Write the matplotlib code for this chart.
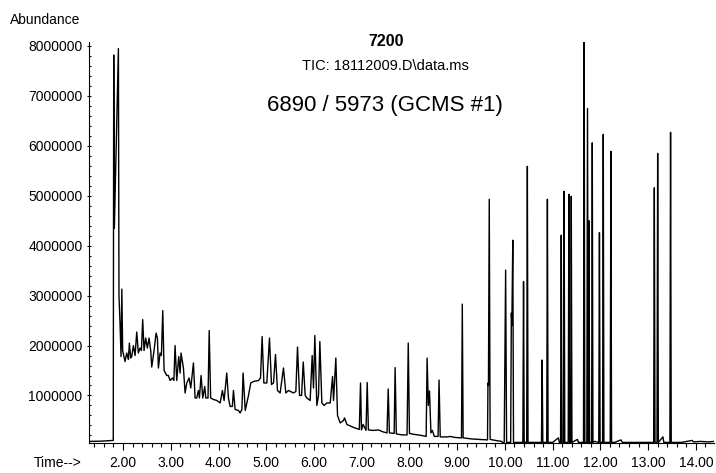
import matplotlib
matplotlib.use("Agg")
import matplotlib.pyplot as plt
from matplotlib.ticker import MultipleLocator, FuncFormatter

plt.rcParams['font.family'] = ['Liberation Sans', 'DejaVu Sans']

# trace, minutes / abundance in millions
trace_time = [
    1.29, 1.55, 1.795, 1.805, 1.818, 1.903, 1.915, 1.937, 1.958, 1.975,
    1.992, 2.042, 2.077, 2.112, 2.133, 2.160, 2.182, 2.217, 2.252, 2.287,
    2.321, 2.356, 2.385, 2.412, 2.440, 2.475, 2.510, 2.545, 2.580, 2.601,
    2.650, 2.692, 2.720, 2.741, 2.776, 2.804, 2.832, 2.860, 2.915, 2.950,
    2.985, 3.034, 3.065, 3.090, 3.125, 3.167, 3.195, 3.215, 3.265, 3.300,
    3.335, 3.384, 3.419, 3.475, 3.509, 3.544, 3.579, 3.600, 3.635, 3.670,
    3.712, 3.733, 3.780, 3.805, 3.835, 3.894, 3.964, 4.034, 4.082, 4.117,
    4.173, 4.208, 4.243, 4.290, 4.313, 4.348, 4.418, 4.453, 4.490, 4.515,
    4.560, 4.628, 4.676, 4.732, 4.837, 4.880, 4.914, 4.950, 5.012, 5.068,
    5.110, 5.152, 5.194, 5.235, 5.291, 5.361, 5.410, 5.466, 5.571, 5.620,
    5.655, 5.697, 5.740, 5.775, 5.816, 5.850, 5.920, 5.962, 5.990, 6.018,
    6.060, 6.095, 6.123, 6.165, 6.214, 6.270, 6.340, 6.389, 6.410, 6.458,
    6.493, 6.549, 6.619, 6.640, 6.689, 6.829, 6.950, 6.975, 6.995, 7.030,
    7.090, 7.115, 7.140, 7.250, 7.350, 7.450, 7.530, 7.555, 7.580, 7.680,
    7.700, 7.725, 7.850, 7.950, 7.975, 8.000, 8.100, 8.250, 8.350, 8.370,
    8.395, 8.420, 8.450, 8.480, 8.520, 8.600, 8.620, 8.645, 8.800, 8.850,
    8.950, 9.090, 9.107, 9.125, 9.300, 9.450, 9.635, 9.645, 9.655, 9.672,
    9.690, 9.800, 9.930, 9.960, 9.985, 10.015, 10.035, 10.120, 10.135, 10.145,
    10.165, 10.180, 10.300, 10.600, 10.700, 11.000, 11.120, 11.140, 11.300,
    11.520, 11.540, 11.600, 11.880, 12.000, 12.150, 12.300, 12.430, 12.460,
    12.700, 13.000, 13.310, 13.330, 13.400, 13.700, 13.920, 13.950, 14.100,
    14.250, 14.380,
]
trace_abund = [
    0.08, 0.085, 0.10, 7.82, 4.35, 7.95, 3.00, 2.45, 1.78, 3.13,
    1.90, 1.68, 1.85, 1.72, 2.05, 1.75, 1.78, 2.00, 1.80, 2.27,
    1.85, 1.95, 1.90, 2.52, 1.90, 2.15, 1.95, 2.15, 1.90, 1.57,
    1.90, 2.25, 2.15, 1.55, 1.85, 1.80, 2.70, 1.50, 1.40, 1.40,
    1.30, 1.35, 1.30, 2.00, 1.30, 1.78, 1.45, 1.85, 1.55, 1.05,
    1.25, 1.35, 1.15, 1.65, 0.95, 0.95, 1.10, 0.95, 1.40, 0.95,
    1.18, 0.95, 0.95, 2.30, 0.95, 0.92, 0.90, 0.85, 1.10, 0.90,
    1.45, 0.95, 0.78, 0.78, 1.10, 0.72, 0.70, 0.65, 0.72, 1.45,
    0.70, 1.00, 1.25, 1.28, 1.30, 1.35, 2.18, 1.25, 1.25, 2.15,
    1.22, 1.25, 1.82, 1.10, 1.05, 1.55, 1.05, 1.10, 1.05, 1.08,
    1.97, 1.00, 1.00, 1.67, 1.00, 0.95, 0.90, 1.80, 1.15, 2.20,
    0.80, 1.00, 2.08, 0.85, 0.80, 0.85, 0.85, 1.38, 0.90, 1.75,
    0.60, 0.45, 0.50, 0.55, 0.42, 0.36, 0.32, 1.25, 0.31, 0.42,
    0.30, 1.26, 0.31, 0.30, 0.31, 0.27, 0.25, 1.13, 0.25, 0.24,
    1.56, 0.23, 0.21, 0.21, 2.05, 0.24, 0.22, 0.20, 0.18, 1.75,
    0.80, 1.09, 0.25, 0.30, 0.18, 0.18, 1.31, 0.17, 0.17, 0.18,
    0.16, 0.15, 2.83, 0.15, 0.13, 0.12, 0.11, 1.25, 1.20, 4.93,
    0.12, 0.10, 0.08, 0.05, 0.06, 3.51, 0.06, 0.06, 2.65, 2.40,
    4.11, 0.06, 0.06, 0.06, 0.06, 0.06, 0.15, 0.06, 0.06,
    0.12, 0.06, 0.06, 0.08, 0.06, 0.06, 0.06, 0.11, 0.06,
    0.06, 0.06, 0.17, 0.06, 0.06, 0.06, 0.10, 0.07, 0.08,
    0.07, 0.08,
]

# sharp late peaks: retention time, apex (millions)
peak_time = [10.39, 10.47, 10.78, 10.89, 11.18, 11.24, 11.34, 11.39, 11.66,
             11.73, 11.76, 11.83, 11.98, 12.06, 12.22, 13.13, 13.20, 13.47]
peak_top = [3.28, 5.59, 1.71, 4.93, 4.21, 5.09, 5.03, 4.99, 8.09,
            6.75, 4.50, 6.06, 4.26, 6.23, 5.89, 5.16, 5.85, 6.27]
peak_foot = 0.06

half_w = 0.014
pts = list(zip(trace_time, trace_abund))
for t, top in zip(peak_time, peak_top):
    pts += [(t - half_w, peak_foot), (t, top), (t + half_w, peak_foot)]
pts.sort()
xs = [p[0] for p in pts]
ys = [p[1] * 1e6 for p in pts]

fig = plt.figure(figsize=(7.16, 4.73), dpi=100)
ax = fig.add_axes([89 / 716, 30 / 473, 625 / 716, 401 / 473])
ax.plot(xs, ys, color='black', lw=1.0)

ax.set_xlim(1.287, 14.38)
ax.set_ylim(0.048e6, 8.08e6)
for s in ['top', 'right']:
    ax.spines[s].set_visible(False)
for s in ['left', 'bottom']:
    ax.spines[s].set_linewidth(0.8)

ax.xaxis.set_major_locator(MultipleLocator(1.0))
ax.xaxis.set_minor_locator(MultipleLocator(0.2))
ax.xaxis.set_major_formatter(FuncFormatter(lambda v, p: f"{v:.2f}" if v >= 2 else ""))
ax.yaxis.set_major_locator(MultipleLocator(1e6))
ax.yaxis.set_minor_locator(MultipleLocator(2e5))
ax.yaxis.set_major_formatter(FuncFormatter(lambda v, p: f"{int(round(v))}"))

ax.tick_params(axis='x', which='major', direction='out', length=5, width=0.8,
               labelsize=10, pad=4)
ax.tick_params(axis='x', which='minor', direction='out', length=3.2, width=0.8)
ax.tick_params(axis='y', which='major', direction='inout', length=3.5, width=0.8,
               labelsize=10, pad=3)
ax.tick_params(axis='y', which='minor', direction='in', length=1.6, width=0.8)

fig.text(10 / 716, 1 - 20 / 473, "Abundance", fontsize=10, ha='left', va='center')
fig.text(82 / 716, 1 - 463 / 473, "Time-->", fontsize=10, ha='right', va='center')
fig.text(386 / 716, 1 - 42 / 473, "7200", fontsize=11.5, fontweight='bold',
         ha='center', va='center')
fig.text(385 / 716, 1 - 66 / 473, "TIC: 18112009.D\\data.ms", fontsize=10.5,
         ha='center', va='center')
fig.text(385 / 716, 1 - 106 / 473, "6890 / 5973 (GCMS #1)", fontsize=16,
         ha='center', va='center')

fig.savefig("out.png", dpi=100)
